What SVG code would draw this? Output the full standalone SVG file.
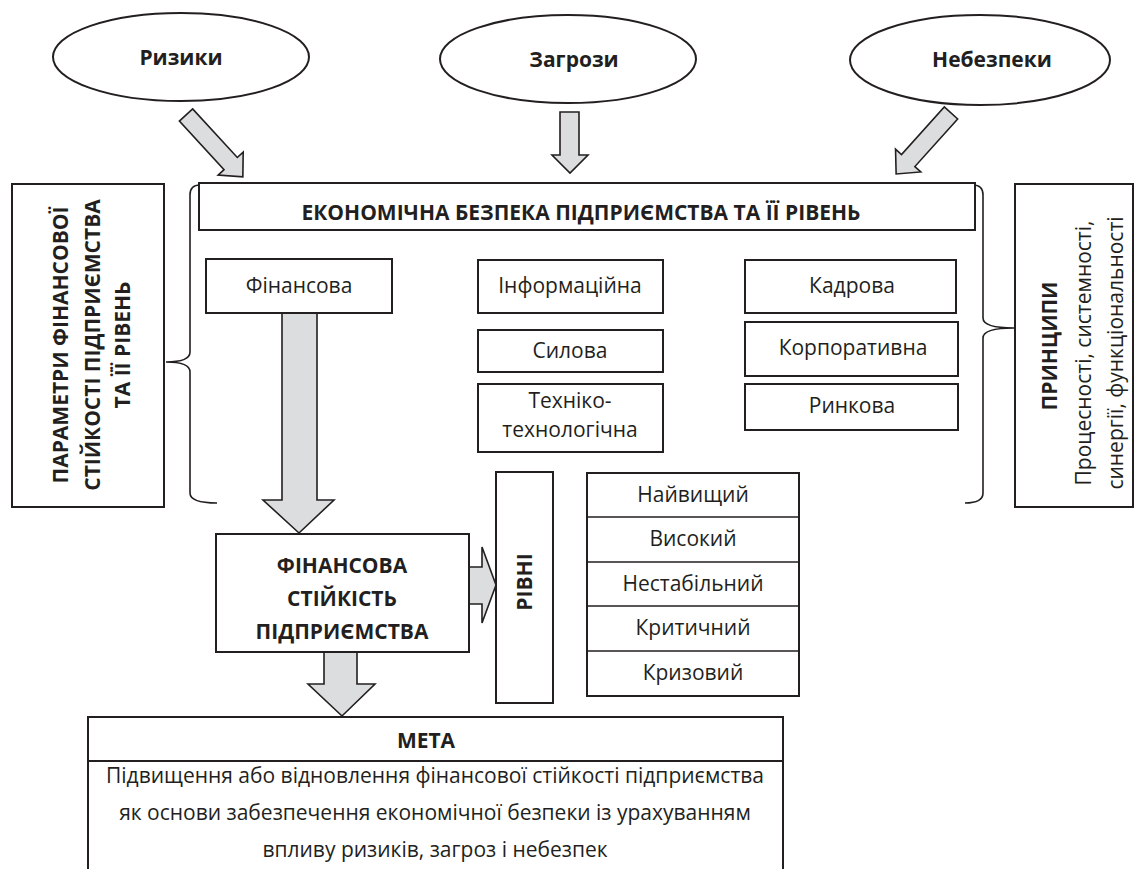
<svg xmlns="http://www.w3.org/2000/svg" width="1139" height="869" viewBox="0 0 1139 869">
<style>
.bx{fill:#fff;stroke:#231f20;stroke-width:2}
.ar{fill:#dcddde;stroke:#231f20;stroke-width:1.6;stroke-linejoin:miter}
.br{fill:none;stroke:#231f20;stroke-width:1.6}
text{font-family:"Open Sans","Noto Sans","Liberation Sans",sans-serif;fill:#231f20;font-size:21px;text-anchor:middle}
.b{font-weight:bold}
</style>
<rect width="1139" height="869" fill="#fff"/>

<g id="connectors">
  <path class="ar" transform="translate(186,115) rotate(47.4)" d="M0,-9 L66,-9 L66,-17 L84,0 L66,17 L66,9 L0,9 Z"/>
  <path class="ar" d="M560,112 L579,112 L579,155 L588,155 L570,173 L552,155 L560,155 Z"/>
  <path class="ar" transform="translate(951,113) rotate(132)" d="M0,-9 L64,-9 L64,-17 L82,0 L64,17 L64,9 L0,9 Z"/>
  <path class="ar" d="M282,313 L317,313 L317,500 L334,500 L299,533 L263,500 L282,500 Z"/>
  <path class="ar" d="M469,567 L482,567 L482,547 L496,585 L482,623 L482,604 L469,604 Z"/>
  <path class="ar" d="M324,652 L357,652 L357,684 L375,684 L342,716 L308,684 L324,684 Z"/>
  <path class="br" d="M200,185 Q190,185 190,195 L190,352 Q190,362 166,362 Q190,362 190,372 L190,493 Q190,503 217,503"/>
  <path class="br" d="M973,185 Q983,185 983,195 L983,318 Q983,328 1014,328 Q983,328 983,338 L983,493 Q983,503 965,503"/>
</g>

<g id="risks">
  <ellipse class="bx" cx="181" cy="57" rx="128" ry="44"/>
  <text class="b" x="181" y="65" font-size="20">Ризики</text>
</g>
<g id="threats">
  <ellipse class="bx" cx="568" cy="59" rx="128" ry="44"/>
  <text class="b" x="574" y="67" font-size="20">Загрози</text>
</g>
<g id="dangers">
  <ellipse class="bx" cx="980" cy="60" rx="130" ry="45"/>
  <text class="b" x="992" y="67" font-size="20">Небезпеки</text>
</g>

<g id="econ-security">
  <rect class="bx" x="199" y="183" width="776" height="47"/>
  <text class="b" x="581" y="220" font-size="20">ЕКОНОМІЧНА БЕЗПЕКА ПІДПРИЄМСТВА ТА ЇЇ РІВЕНЬ</text>
</g>

<g id="params">
  <rect class="bx" x="12" y="184" width="152" height="323"/>
  <text class="b" font-size="20" transform="translate(68,345) rotate(-90)">ПАРАМЕТРИ ФІНАНСОВОЇ</text>
  <text class="b" font-size="20" transform="translate(100,345) rotate(-90)">СТІЙКОСТІ ПІДПРИЄМСТВА</text>
  <text class="b" font-size="20" transform="translate(130,345) rotate(-90)">ТА ЇЇ РІВЕНЬ</text>
</g>

<g id="principles">
  <rect class="bx" x="1015" y="184" width="118" height="323"/>
  <text class="b" transform="translate(1057,346) rotate(-90)">ПРИНЦИПИ</text>
  <text font-size="22" transform="translate(1091,353) rotate(-90)">Процесності, системності,</text>
  <text font-size="22" transform="translate(1123,353) rotate(-90)">синергії, функціональності</text>
</g>

<g id="financial">
  <rect class="bx" x="206" y="259" width="186" height="54"/>
  <text x="299" y="293">Фінансова</text>
</g>
<g id="information">
  <rect class="bx" x="478" y="260" width="185" height="53"/>
  <text x="570" y="293">Інформаційна</text>
</g>
<g id="power">
  <rect class="bx" x="478" y="330" width="185" height="42"/>
  <text x="570" y="358">Силова</text>
</g>
<g id="tech">
  <rect class="bx" x="478" y="384" width="185" height="68"/>
  <text x="570" y="408">Техніко-</text>
  <text x="570" y="437">технологічна</text>
</g>
<g id="personnel">
  <rect class="bx" x="745" y="260" width="211" height="53"/>
  <text x="852" y="293">Кадрова</text>
</g>
<g id="corporate">
  <rect class="bx" x="745" y="322" width="213" height="54"/>
  <text x="853" y="355">Корпоративна</text>
</g>
<g id="market">
  <rect class="bx" x="745" y="384" width="213" height="46"/>
  <text x="852" y="413">Ринкова</text>
</g>

<g id="fin-stability">
  <rect class="bx" x="216" y="534" width="253" height="118"/>
  <text class="b" x="342" y="573">ФІНАНСОВА</text>
  <text class="b" x="342" y="606">СТІЙКІСТЬ</text>
  <text class="b" x="342" y="639">ПІДПРИЄМСТВА</text>
</g>

<g id="levels">
  <rect class="bx" x="496" y="472" width="57" height="231"/>
  <text class="b" transform="translate(532,582) rotate(-90)">РІВНІ</text>
</g>

<g id="level-list">
  <rect class="bx" x="587" y="473" width="212" height="223"/>
  <path class="br" stroke-width="2" d="M587,517 H799 M587,562 H799 M587,606 H799 M587,651 H799"/>
  <text x="693" y="502">Найвищий</text>
  <text x="693" y="546">Високий</text>
  <text x="693" y="591">Нестабільний</text>
  <text x="693" y="635">Критичний</text>
  <text x="693" y="680">Кризовий</text>
</g>

<g id="goal">
  <path d="M88,869 V717 H783 V869 M88,761 H783" fill="#fff" stroke="#231f20" stroke-width="2"/>
  <text class="b" x="426" y="748">МЕТА</text>
  <text x="435" y="783">Підвищення або відновлення фінансової стійкості підприємства</text>
  <text x="435" y="820">як основи забезпечення економічної безпеки із урахуванням</text>
  <text x="435" y="857">впливу ризиків, загроз і небезпек</text>
</g>
</svg>
